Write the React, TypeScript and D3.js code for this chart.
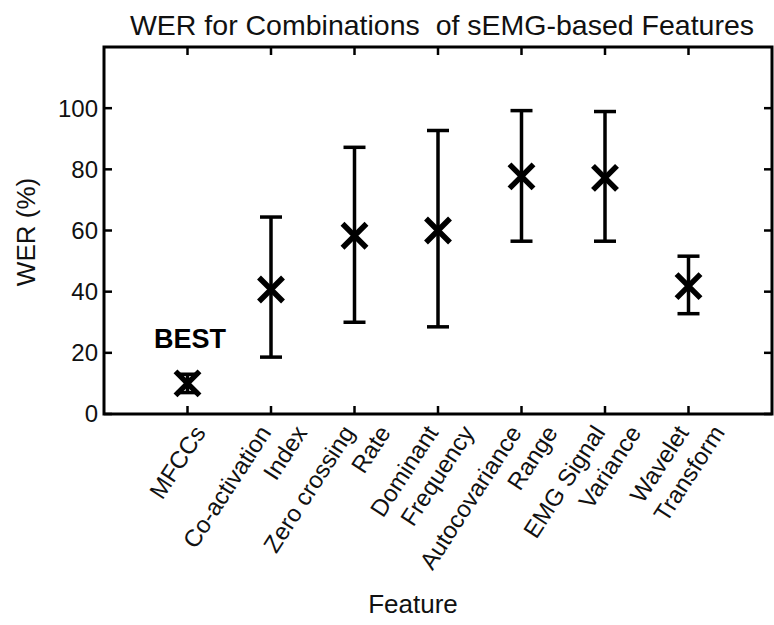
import React from 'react';
import * as d3 from 'd3';

// feature labels (split into lines as in the figure)
const features: string[][] = [
  ['MFCCs'],
  ['Co-activation', 'Index'],
  ['Zero crossing', 'Rate'],
  ['Dominant', 'Frequency'],
  ['Autocovariance', 'Range'],
  ['EMG Signal', 'Variance'],
  ['Wavelet', 'Transform'],
];
const werMean = [10, 40.7, 58.3, 60, 77.7, 77.2, 41.8];
const werLow = [7, 18.6, 30, 28.5, 56.5, 56.5, 32.8];
const werHigh = [13, 64.4, 87.2, 92.7, 99.2, 98.9, 51.6];
const yTicks = [0, 20, 40, 60, 80, 100];

const W = 774;
const H = 625;
const box = { left: 104, right: 772, top: 47, bottom: 414 };
const font = 'Arial, "Liberation Sans", sans-serif';

const App = () => {
  const x = d3.scaleLinear().domain([0, 8]).range([box.left, box.right]);
  const y = d3.scaleLinear().domain([0, 120]).range([box.bottom, box.top]);
  const tickLen = 8;
  const cap = 11;
  const mk = 12;
  const angle = -57;

  return (
    <svg width={W} height={H} style={{ display: 'block', position: 'absolute', left: 0, top: 0 }}>
      <rect width={W} height={H} fill="#fff" />
      <text x={442} y={35} textAnchor="middle" fontFamily={font} fontSize={28.5} fill="#111">
        {'WER for Combinations \u00A0of sEMG-based Features'}
      </text>

      {/* axes box */}
      <rect x={box.left} y={box.top} width={box.right - box.left} height={box.bottom - box.top}
        fill="none" stroke="#000" strokeWidth={3} />

      {yTicks.map(t => (
        <g key={'y' + t}>
          <line x1={box.left} x2={box.left + tickLen} y1={y(t)} y2={y(t)} stroke="#000" strokeWidth={2.5} />
          <line x1={box.right} x2={box.right - tickLen} y1={y(t)} y2={y(t)} stroke="#000" strokeWidth={2.5} />
          <text x={box.left - 6} y={y(t)} dy="0.35em" textAnchor="end" fontFamily={font} fontSize={24} fill="#111">{t}</text>
        </g>
      ))}

      {features.map((lines, i) => {
        const cx = x(i + 1);
        const n = lines.length;
        return (
          <g key={'x' + i}>
            <line x1={cx} x2={cx} y1={box.bottom} y2={box.bottom - tickLen} stroke="#000" strokeWidth={2.5} />
            <line x1={cx} x2={cx} y1={box.top} y2={box.top + tickLen} stroke="#000" strokeWidth={2.5} />
            {lines.map((s, j) => {
              const lx = cx + 12 + (j - (n - 1) / 2) * 36;
              const ly = 428;
              return (
                <text key={j} x={lx} y={ly} dy="0.35em" textAnchor="end" fontFamily={font} fontSize={24} fill="#111"
                  transform={`rotate(${angle},${lx},${ly})`}>{s}</text>
              );
            })}
          </g>
        );
      })}

      {/* error bars and markers */}
      {werMean.map((m, i) => {
        const cx = x(i + 1);
        return (
          <g key={'e' + i} stroke="#000" fill="none">
            <line x1={cx} x2={cx} y1={y(werLow[i])} y2={y(werHigh[i])} strokeWidth={3.5} />
            <line x1={cx - cap} x2={cx + cap} y1={y(werLow[i])} y2={y(werLow[i])} strokeWidth={3.5} />
            <line x1={cx - cap} x2={cx + cap} y1={y(werHigh[i])} y2={y(werHigh[i])} strokeWidth={3.5} />
            <path d={`M${cx - mk},${y(m) - mk}L${cx + mk},${y(m) + mk}M${cx - mk},${y(m) + mk}L${cx + mk},${y(m) - mk}`}
              strokeWidth={5.5} />
          </g>
        );
      })}

      <text x={190} y={348} textAnchor="middle" fontFamily={font} fontSize={27} fontWeight="bold" fill="#000">BEST</text>

      <text transform={`translate(35,232) rotate(-90)`} textAnchor="middle" fontFamily={font} fontSize={26} fill="#111">WER (%)</text>
      <text x={413} y={613} textAnchor="middle" fontFamily={font} fontSize={26} fill="#111">Feature</text>
    </svg>
  );
};

export default App;
